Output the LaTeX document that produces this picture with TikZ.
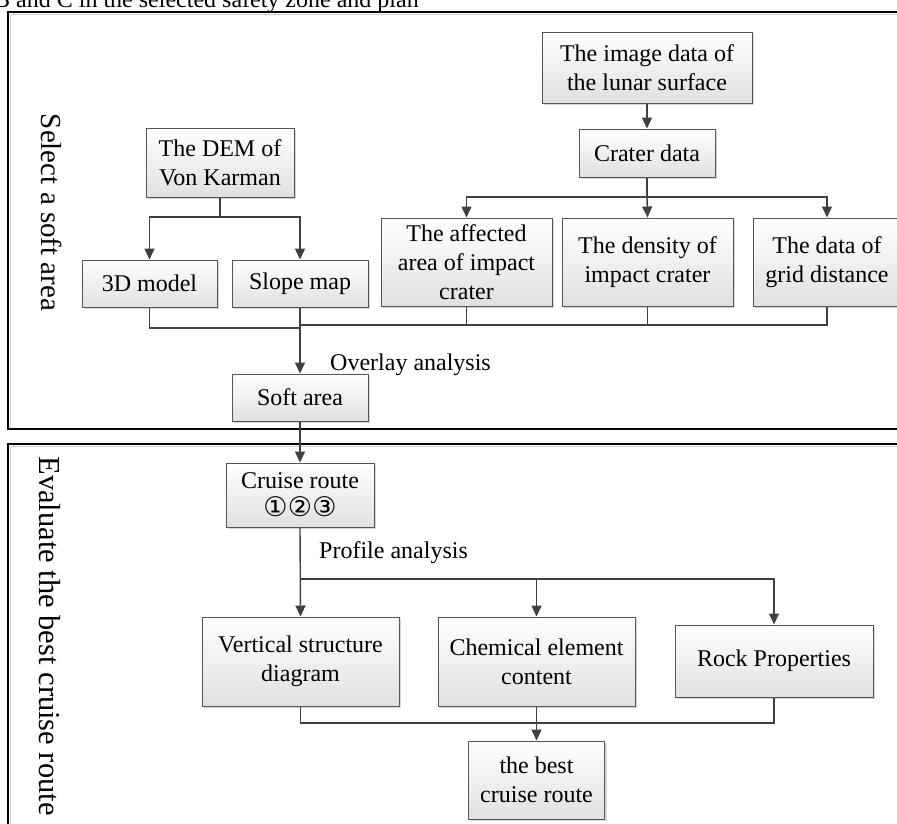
\documentclass[tikz,border=0pt]{standalone}
\usepackage{fontspec}
\setmainfont{Liberation Serif}
\newfontfamily\symfont{DejaVu Sans}
\usetikzlibrary{arrows.meta,shadows}
\definecolor{lnc}{HTML}{404040}
\definecolor{bdc}{HTML}{555555}
\newcommand{\circd}[1]{\makebox[24.5pt]{\symfont\fontsize{27}{29}\selectfont #1}}
\tikzset{
  box/.style={draw=bdc, line width=1pt, top color=white, bottom color=black!12,
    align=center, inner sep=2pt, font=\fontsize{24}{29}\selectfont,
    drop shadow={shadow xshift=2pt, shadow yshift=-2pt, fill=black!35, opacity=0.45}},
  conn/.style={draw=lnc, line width=1.4pt},
  arr/.style={conn, -{Triangle[length=11pt,width=10pt]}},
  panel/.style={draw=black, line width=1.5pt},
  lbl/.style={font=\fontsize{24}{29}\selectfont, inner sep=0pt},
  sidelbl/.style={rotate=-90, inner sep=0pt}
}
\begin{document}
\begin{tikzpicture}[x=1pt,y=-1pt]
\useasboundingbox (0,0) rectangle (897,823);
\clip (0,0) rectangle (897,823);
\fill[white] (0,0) rectangle (897,823);
% cut-off caption line at the top
\node[lbl, anchor=base west] (cap) at (-6,7) {B and C in the selected safety zone and plan};
% panels
\draw[panel] (8,12) rectangle (910,429);
\draw[black!20, line width=1pt] (10.5,14.5) -- (910,14.5) (10.5,14.5) -- (10.5,427);
\draw[panel] (8,444) rectangle (910,840);
\draw[black!20, line width=1pt] (10.5,446.5) -- (910,446.5) (10.5,446.5) -- (10.5,840);
\node[sidelbl, font=\fontsize{29}{34}\selectfont] (lab1) at (52,212.5) {Select a soft area};
\node[sidelbl, font=\fontsize{30.5}{36}\selectfont] (lab2) at (50,636) {Evaluate the best cruise route};
% upper panel boxes
\node[box, minimum width=210, minimum height=71] (img) at (647,67.5) {The image data of\\the lunar surface};
\node[box, minimum width=136, minimum height=48] (crater) at (647,153) {Crater data};
\node[box, minimum width=148, minimum height=69] (dem) at (220,162.5) {The DEM of\\Von Karman};
\node[box, minimum width=135, minimum height=47] (m3d) at (149.5,283.5) {3D model};
\node[box, minimum width=136, minimum height=47] (slope) at (300,283.5) {Slope map};
\node[box, minimum width=171, minimum height=88] (aff) at (466.5,262) {The affected\\area of impact\\crater};
\node[box, minimum width=171, minimum height=88] (dens) at (647.5,262) {The density of\\impact crater};
\node[box, minimum width=148, minimum height=88] (grid) at (827,262) {The data of\\grid distance};
\node[box, minimum width=136, minimum height=47] (soft) at (300,397.5) {Soft area};
% lower panel boxes
\node[box, minimum width=148, minimum height=64, inner sep=1pt] (cruise) at (300,495) {Cruise route\\[-1pt]\circd{①}\circd{②}\circd{③}};
\node[box, minimum width=197, minimum height=89] (vert) at (300.5,661.5) {Vertical structure\\diagram};
\node[box, minimum width=197, minimum height=89] (chem) at (536.5,661.5) {Chemical element\\content};
\node[box, minimum width=198, minimum height=72] (rock) at (774,661) {Rock Properties};
\node[box, minimum width=136, minimum height=78] (best) at (536.5,780) {the best\\cruise route};
% labels
\node[lbl, anchor=west] (ovl) at (330,365) {Overlay analysis};
\node[lbl, anchor=west] (prof) at (319,553) {Profile analysis};
% connectors upper
\draw[arr] (img) -- (crater);
\draw[conn] (dem.south) -- (220,217) coordinate (demj);
\draw[arr] (demj) -| (m3d.north);
\draw[arr] (demj) -| (slope.north);
\draw[conn] (crater.south) -- (647,197) coordinate (crj);
\draw[arr] (crj) -| (aff.north);
\draw[arr] (crj) -- (dens.north);
\draw[arr] (crj) -| (grid.north);
\coordinate (ovlj) at (300,328);
\coordinate (ovrj) at (300,325);
\draw[conn] (m3d.south) |- (ovlj);
\draw[conn] (aff.south) |- (ovrj);
\draw[conn] (dens.south) |- (ovrj);
\draw[conn] (grid.south) |- (ovrj);
\draw[arr] (slope.south) -- (soft.north);
\draw[arr] (soft.south) -- (cruise.north);
% connectors lower
\draw[arr] (cruise.south) -- (vert.north);
\coordinate (pj) at (300,579);
\draw[arr] (pj) -| (chem.north);
\draw[arr] (pj) -| (rock.north);
\coordinate (bj) at (536.5,723);
\draw[conn] (vert.south) |- (bj);
\draw[conn] (rock.south) |- (bj);
\draw[arr] (chem.south) -- (best.north);
\end{tikzpicture}
\end{document}
